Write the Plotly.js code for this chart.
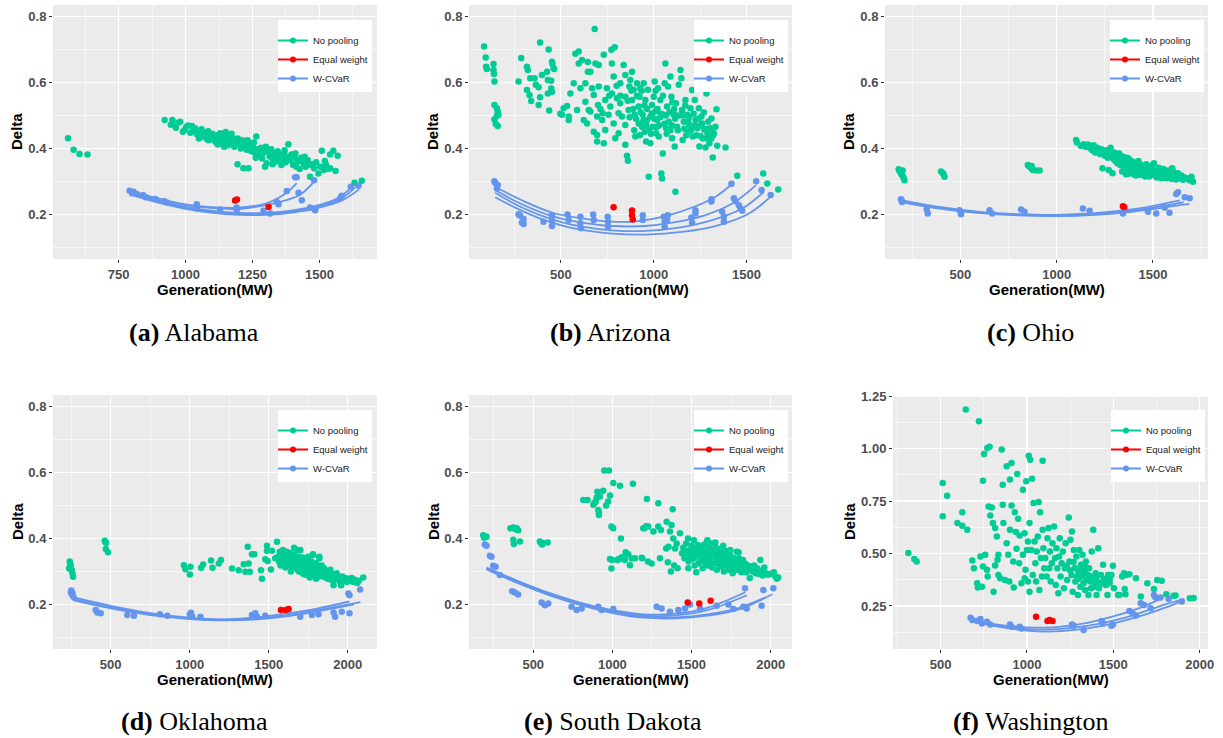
<!DOCTYPE html>
<html><head><meta charset="utf-8">
<script src="https://cdn.plot.ly/plotly-3.0.1.min.js"></script>
<style>html,body{margin:0;padding:0;background:#fff}#chart{width:1223px;height:738px}</style>
</head><body><div id="chart"></div>
<script>
// ---------------- DATA ----------------
const seriesNames = ['No pooling', 'Equal weight', 'W-CVaR'];
const xTitle = 'Generation(MW)';
const yTitle = 'Delta';

// (a) Alabama
const alNoPool = [[561,0.431],[582,0.396],[604,0.383],[634,0.382],[922,0.486],[945,0.472],[951,0.486],[955,0.474],[964,0.463],[972,0.478],[980,0.481],[990,0.451],[996,0.456],[1003,0.466],[1010,0.470],[1018,0.448],[1024,0.468],[1030,0.453],[1036,0.461],[1042,0.444],[1048,0.452],[1055,0.440],[1060,0.458],[1066,0.436],[1072,0.447],[1078,0.430],[1084,0.452],[1090,0.441],[1095,0.428],[1100,0.445],[1106,0.432],[1112,0.420],[1118,0.440],[1124,0.427],[1130,0.446],[1135,0.415],[1140,0.433],[1146,0.421],[1152,0.438],[1158,0.410],[1164,0.428],[1170,0.417],[1176,0.432],[1182,0.405],[1188,0.422],[1194,0.352],[1200,0.415],[1206,0.400],[1212,0.425],[1216,0.340],[1222,0.408],[1228,0.396],[1235,0.340],[1240,0.412],[1246,0.392],[1252,0.405],[1258,0.388],[1264,0.436],[1270,0.398],[1276,0.380],[1282,0.402],[1288,0.385],[1294,0.395],[1297,0.345],[1303,0.355],[1308,0.390],[1314,0.376],[1320,0.398],[1326,0.368],[1332,0.385],[1338,0.372],[1344,0.392],[1350,0.362],[1356,0.380],[1362,0.368],[1368,0.386],[1374,0.358],[1380,0.375],[1384,0.413],[1390,0.365],[1396,0.382],[1402,0.350],[1408,0.370],[1414,0.345],[1420,0.362],[1426,0.338],[1432,0.372],[1440,0.355],[1448,0.345],[1456,0.365],[1465,0.314],[1472,0.352],[1480,0.340],[1488,0.358],[1496,0.324],[1503,0.345],[1509,0.393],[1516,0.335],[1524,0.352],[1532,0.338],[1540,0.382],[1552,0.393],[1568,0.378],[1631,0.296],[1658,0.302],[1172,0.445],[1144,0.405],[1120,0.412],[1232,0.425],[1262,0.372],[1286,0.370],[1325,0.352],[1358,0.350],[1400,0.372],[1445,0.375],[1050,0.430],[1085,0.425],[1150,0.450],[1195,0.430],[1255,0.418],[1300,0.405],[1335,0.360],[1370,0.395],[1410,0.385],[1460,0.350],[1520,0.362],[1540,0.340],[1560,0.332]];
const alEqual = [[1185,0.242],[1192,0.245],[1310,0.223]];
const alCvar = [[791,0.272],[800,0.264],[806,0.269],[818,0.262],[841,0.259],[852,0.252],[887,0.247],[920,0.240],[930,0.236],[1042,0.231],[1042,0.218],[1129,0.215],[1191,0.221],[1191,0.213],[1291,0.211],[1316,0.203],[1341,0.238],[1347,0.231],[1378,0.271],[1409,0.313],[1415,0.313],[1422,0.266],[1434,0.243],[1465,0.221],[1480,0.304],[1484,0.213],[1577,0.249],[1583,0.257],[1617,0.284],[1646,0.287]];
const alCurves = [
  [[790,0.272],[870,0.254],[995,0.231],[1100,0.222],[1200,0.221],[1300,0.233],[1376,0.265],[1415,0.295]],
  [[790,0.270],[870,0.252],[995,0.229],[1100,0.219],[1200,0.217],[1254,0.222],[1341,0.236],[1428,0.260],[1484,0.304]],
  [[790,0.268],[870,0.248],[995,0.224],[1100,0.211],[1200,0.205],[1300,0.205],[1400,0.212],[1500,0.229],[1570,0.250],[1620,0.282]],
  [[790,0.265],[870,0.245],[995,0.221],[1100,0.208],[1200,0.202],[1300,0.202],[1400,0.209],[1500,0.225],[1580,0.248],[1635,0.283]],
  [[790,0.262],[870,0.242],[995,0.218],[1100,0.205],[1200,0.199],[1300,0.199],[1400,0.206],[1500,0.221],[1590,0.245],[1648,0.276]]
];

// (b) Arizona
const azNoPool = [[86,0.709],[95,0.676],[97,0.648],[101,0.641],[137,0.656],[137,0.638],[139,0.626],[142,0.603],[142,0.532],[155,0.522],[160,0.512],[155,0.499],[142,0.488],[149,0.474],[160,0.468],[164,0.502],[272,0.603],[286,0.674],[317,0.648],[322,0.638],[317,0.577],[331,0.562],[340,0.544],[335,0.613],[358,0.613],[365,0.593],[380,0.586],[388,0.555],[380,0.532],[388,0.721],[398,0.623],[425,0.633],[430,0.608],[430,0.567],[434,0.700],[437,0.515],[448,0.605],[448,0.582],[452,0.663],[455,0.656],[460,0.643],[452,0.572],[464,0.641],[497,0.505],[515,0.522],[506,0.502],[533,0.529],[542,0.497],[542,0.486],[551,0.567],[569,0.598],[578,0.687],[587,0.517],[605,0.583],[596,0.694],[596,0.658],[614,0.668],[623,0.486],[632,0.598],[632,0.542],[641,0.476],[650,0.517],[659,0.512],[645,0.633],[645,0.662],[659,0.633],[668,0.583],[677,0.562],[677,0.451],[682,0.762],[686,0.658],[695,0.497],[700,0.532],[704,0.653],[695,0.421],[695,0.441],[704,0.588],[713,0.520],[722,0.486],[725,0.507],[731,0.684],[731,0.416],[739,0.547],[739,0.456],[748,0.583],[757,0.502],[766,0.527],[772,0.699],[775,0.658],[775,0.567],[784,0.618],[784,0.476],[790,0.707],[793,0.431],[802,0.552],[811,0.507],[811,0.446],[820,0.598],[820,0.537],[829,0.497],[838,0.653],[847,0.623],[847,0.557],[847,0.471],[847,0.411],[856,0.378],[861,0.363],[865,0.517],[869,0.588],[874,0.608],[883,0.633],[883,0.547],[892,0.578],[897,0.502],[901,0.436],[910,0.598],[919,0.527],[919,0.476],[924,0.557],[928,0.583],[937,0.466],[941,0.502],[946,0.598],[951,0.451],[955,0.547],[959,0.421],[964,0.486],[969,0.578],[973,0.314],[982,0.497],[982,0.416],[991,0.532],[995,0.466],[1000,0.557],[1005,0.603],[1009,0.512],[1013,0.446],[1018,0.486],[1023,0.583],[1027,0.436],[1036,0.547],[1041,0.324],[1045,0.309],[1049,0.385],[1054,0.502],[1059,0.598],[1063,0.658],[1067,0.461],[1072,0.527],[1077,0.588],[1081,0.481],[1090,0.618],[1095,0.557],[1099,0.431],[1108,0.502],[1113,0.406],[1117,0.269],[1120,0.537],[1126,0.466],[1135,0.593],[1144,0.638],[1149,0.613],[1153,0.517],[1156,0.426],[1162,0.481],[1171,0.547],[1180,0.502],[1185,0.451],[1192,0.471],[1198,0.522],[1207,0.577],[1210,0.436],[1221,0.547],[1225,0.486],[1234,0.461],[1243,0.522],[1246,0.406],[1252,0.438],[1257,0.497],[1261,0.476],[1270,0.509],[1275,0.456],[1279,0.403],[1284,0.567],[1288,0.431],[1293,0.481],[1300,0.416],[1306,0.461],[1311,0.491],[1318,0.373],[1324,0.446],[1333,0.466],[1338,0.519],[1342,0.408],[1387,0.403],[860,0.545],[890,0.520],[905,0.490],[930,0.510],[950,0.530],[960,0.470],[975,0.455],[990,0.505],[1003,0.490],[1020,0.520],[1030,0.470],[1040,0.505],[1058,0.475],[1070,0.445],[1085,0.510],[1100,0.470],[1115,0.490],[1130,0.455],[1140,0.500],[1165,0.460],[1175,0.440],[1190,0.495],[1200,0.455],[1215,0.505],[1230,0.440],[1250,0.470],[1265,0.430],[1290,0.445],[1310,0.430],[880,0.575],[910,0.560],[935,0.575],[1010,0.575],[1050,0.560],[1100,0.540],[1170,0.530],[820,0.560],[800,0.590],[760,0.560],[1450,0.317],[1590,0.324],[1612,0.294],[1671,0.276],[870,0.495],[895,0.455],[925,0.440],[945,0.485],[965,0.520],[985,0.445],[1015,0.465],[1035,0.495],[1065,0.500],[1090,0.455],[1110,0.520],[1125,0.500],[1160,0.500],[1185,0.480],[1220,0.470],[1240,0.490],[1270,0.460],[1295,0.460],[1320,0.440]];
const azEqual = [[784,0.222],[883,0.212],[883,0.198],[887,0.185]];
const azCvar = [[142,0.301],[146,0.296],[155,0.279],[160,0.289],[272,0.201],[281,0.196],[290,0.176],[299,0.186],[299,0.171],[406,0.178],[452,0.198],[452,0.181],[452,0.165],[536,0.200],[542,0.183],[605,0.193],[605,0.173],[608,0.158],[674,0.200],[677,0.183],[752,0.193],[754,0.178],[754,0.163],[941,0.198],[941,0.183],[1054,0.193],[1059,0.178],[1059,0.163],[1076,0.198],[1072,0.183],[1203,0.191],[1207,0.175],[1225,0.213],[1225,0.203],[1311,0.246],[1311,0.239],[1369,0.208],[1378,0.193],[1378,0.178],[1419,0.293],[1432,0.249],[1441,0.240],[1459,0.228],[1468,0.218],[1477,0.211],[1552,0.301],[1581,0.274],[1630,0.259]];
const azCurves = [
  [[146,0.284],[290,0.243],[452,0.206],[614,0.188],[775,0.178],[919,0.180],[1063,0.195],[1225,0.225],[1333,0.254],[1419,0.291]],
  [[146,0.274],[290,0.231],[452,0.195],[614,0.175],[775,0.165],[955,0.165],[1099,0.175],[1279,0.198],[1423,0.233],[1552,0.289]],
  [[146,0.266],[290,0.221],[452,0.185],[614,0.163],[775,0.152],[955,0.150],[1135,0.160],[1315,0.183],[1477,0.218],[1594,0.269]],
  [[146,0.252],[290,0.211],[452,0.175],[614,0.153],[775,0.142],[955,0.139],[1153,0.147],[1351,0.168],[1513,0.203],[1630,0.254]]
];

// (c) Ohio
const ohNoPool = [[179,0.337],[183,0.333],[186,0.330],[191,0.324],[194,0.327],[197,0.319],[200,0.333],[204,0.312],[209,0.304],[399,0.330],[408,0.326],[417,0.314],[412,0.322],[850,0.350],[859,0.345],[868,0.340],[876,0.335],[893,0.333],[911,0.333],[870,0.347],[1101,0.426],[1105,0.418],[1125,0.408],[1140,0.413],[1150,0.405],[1162,0.412],[1175,0.400],[1185,0.395],[1192,0.410],[1200,0.388],[1210,0.402],[1218,0.392],[1225,0.383],[1232,0.398],[1238,0.340],[1245,0.388],[1250,0.378],[1258,0.395],[1265,0.372],[1270,0.335],[1275,0.385],[1280,0.402],[1285,0.375],[1290,0.325],[1295,0.368],[1300,0.388],[1305,0.362],[1310,0.378],[1316,0.355],[1320,0.372],[1325,0.385],[1330,0.350],[1335,0.365],[1340,0.330],[1345,0.375],[1350,0.345],[1355,0.360],[1360,0.322],[1365,0.372],[1370,0.338],[1375,0.355],[1380,0.365],[1385,0.330],[1390,0.348],[1395,0.360],[1400,0.322],[1405,0.340],[1410,0.355],[1415,0.328],[1420,0.345],[1425,0.362],[1430,0.320],[1435,0.338],[1440,0.350],[1445,0.330],[1450,0.345],[1455,0.318],[1460,0.335],[1465,0.352],[1470,0.325],[1475,0.340],[1480,0.315],[1485,0.332],[1490,0.348],[1495,0.322],[1500,0.338],[1505,0.355],[1510,0.318],[1515,0.332],[1520,0.312],[1525,0.328],[1530,0.342],[1535,0.320],[1540,0.335],[1545,0.310],[1550,0.325],[1555,0.338],[1560,0.316],[1565,0.330],[1570,0.310],[1575,0.322],[1580,0.333],[1585,0.312],[1590,0.325],[1595,0.308],[1600,0.318],[1605,0.330],[1610,0.310],[1615,0.322],[1620,0.306],[1625,0.315],[1630,0.325],[1640,0.310],[1648,0.318],[1655,0.305],[1665,0.312],[1680,0.308],[1690,0.304],[1700,0.314],[1708,0.299],[1345,0.358],[1372,0.370],[1395,0.345],[1425,0.332],[1455,0.342],[1488,0.328],[1525,0.315],[1560,0.328],[1600,0.340],[1460,0.315],[1410,0.318],[1370,0.323]];
const ohEqual = [[1344,0.225],[1350,0.223]];
const ohCvar = [[191,0.246],[194,0.242],[197,0.238],[325,0.215],[330,0.203],[495,0.213],[503,0.201],[651,0.213],[665,0.203],[815,0.215],[833,0.208],[1136,0.218],[1171,0.211],[1344,0.203],[1353,0.218],[1474,0.208],[1517,0.203],[1561,0.221],[1586,0.205],[1621,0.262],[1630,0.267],[1665,0.252],[1691,0.249]];
const ohCurves = [
  [[197,0.243],[400,0.222],[600,0.208],[800,0.201],[1000,0.199],[1200,0.204],[1400,0.216],[1640,0.243]],
  [[197,0.240],[400,0.219],[600,0.206],[800,0.199],[1000,0.197],[1200,0.202],[1400,0.212],[1660,0.237]],
  [[197,0.237],[400,0.217],[600,0.204],[800,0.197],[1000,0.195],[1200,0.199],[1400,0.209],[1690,0.232]]
];

// (d) Oklahoma
const okNoPool = [[237,0.309],[241,0.330],[244,0.322],[248,0.317],[254,0.304],[258,0.294],[262,0.284],[462,0.393],[466,0.389],[471,0.387],[469,0.368],[483,0.358],[963,0.319],[973,0.307],[1001,0.291],[1005,0.314],[1072,0.311],[1085,0.321],[1135,0.333],[1144,0.311],[1184,0.324],[1198,0.335],[1268,0.309],[1310,0.304],[1342,0.322],[1352,0.299],[1367,0.375],[1373,0.324],[1380,0.299],[1394,0.352],[1409,0.352],[1451,0.304],[1457,0.278],[1478,0.337],[1489,0.378],[1489,0.363],[1493,0.332],[1514,0.306],[1520,0.363],[1552,0.390],[1541,0.340],[1560,0.345],[1565,0.330],[1570,0.360],[1575,0.318],[1580,0.350],[1585,0.338],[1590,0.365],[1595,0.325],[1600,0.352],[1605,0.312],[1610,0.342],[1615,0.360],[1620,0.330],[1625,0.348],[1630,0.318],[1635,0.338],[1640,0.355],[1645,0.322],[1650,0.342],[1655,0.310],[1660,0.332],[1665,0.350],[1670,0.318],[1675,0.338],[1680,0.365],[1685,0.305],[1690,0.328],[1695,0.345],[1700,0.315],[1705,0.335],[1710,0.298],[1715,0.322],[1720,0.342],[1725,0.310],[1730,0.330],[1735,0.290],[1740,0.318],[1745,0.335],[1750,0.305],[1755,0.325],[1760,0.295],[1765,0.312],[1770,0.330],[1775,0.300],[1780,0.350],[1785,0.318],[1790,0.288],[1795,0.308],[1800,0.325],[1805,0.295],[1810,0.315],[1815,0.285],[1820,0.345],[1825,0.305],[1830,0.292],[1835,0.318],[1840,0.300],[1845,0.285],[1850,0.310],[1855,0.295],[1860,0.282],[1865,0.302],[1870,0.290],[1875,0.278],[1880,0.298],[1885,0.285],[1890,0.305],[1895,0.275],[1900,0.292],[1905,0.280],[1910,0.258],[1915,0.288],[1920,0.276],[1930,0.295],[1940,0.282],[1950,0.270],[1958,0.258],[1965,0.285],[1975,0.275],[1985,0.280],[1995,0.268],[2005,0.278],[2015,0.272],[2025,0.280],[2035,0.268],[2045,0.275],[2060,0.265],[2070,0.272],[2098,0.282],[1660,0.372],[1700,0.365],[1750,0.345],[1780,0.352],[1820,0.340],[1605,0.358],[1640,0.300],[1690,0.300],[1720,0.292],[1760,0.282],[1800,0.278]];
const okEqual = [[1577,0.183],[1609,0.183],[1626,0.186]];
const okCvar = [[248,0.238],[251,0.242],[254,0.230],[258,0.234],[265,0.223],[405,0.183],[416,0.176],[437,0.173],[605,0.168],[647,0.166],[811,0.170],[858,0.166],[1001,0.170],[1008,0.175],[1016,0.163],[1068,0.163],[1394,0.168],[1415,0.173],[1426,0.163],[1478,0.166],[1699,0.163],[1773,0.168],[1815,0.170],[1910,0.176],[1920,0.163],[1962,0.178],[2004,0.233],[2011,0.228],[2011,0.173],[2078,0.245]];
const okCurves = [
  [[260,0.222],[500,0.196],[750,0.174],[1000,0.160],[1200,0.155],[1400,0.160],[1600,0.172],[1800,0.187],[2010,0.209]],
  [[260,0.218],[500,0.192],[750,0.171],[1000,0.158],[1200,0.153],[1400,0.157],[1600,0.167],[1800,0.182],[2080,0.207]],
  [[260,0.213],[500,0.188],[750,0.168],[1000,0.156],[1200,0.152],[1400,0.154],[1600,0.163],[1800,0.178],[2040,0.200]]
];

// (e) South Dakota
const sdNoPool = [[184,0.410],[190,0.402],[195,0.406],[205,0.405],[356,0.431],[374,0.433],[395,0.431],[374,0.396],[377,0.383],[416,0.391],[405,0.425],[388,0.428],[542,0.391],[549,0.386],[556,0.382],[561,0.386],[591,0.388],[816,0.517],[843,0.517],[880,0.502],[886,0.507],[895,0.512],[901,0.524],[905,0.542],[911,0.486],[915,0.471],[915,0.478],[921,0.527],[942,0.545],[949,0.606],[960,0.500],[978,0.606],[973,0.512],[985,0.530],[994,0.436],[1005,0.431],[1006,0.568],[1048,0.560],[1054,0.400],[985,0.338],[994,0.309],[998,0.335],[1033,0.335],[1037,0.337],[1054,0.340],[1059,0.343],[1067,0.339],[1079,0.335],[1084,0.358],[1100,0.352],[1111,0.319],[1122,0.339],[1130,0.566],[1143,0.340],[1189,0.340],[1195,0.431],[1202,0.431],[1213,0.437],[1218,0.520],[1227,0.436],[1248,0.324],[1259,0.421],[1290,0.507],[1290,0.436],[1301,0.340],[1307,0.426],[1225,0.330],[1185,0.342],[1343,0.451],[1364,0.421],[1374,0.441],[1381,0.489],[1385,0.400],[1396,0.370],[1406,0.385],[1427,0.416],[1340,0.370],[1355,0.375],[1370,0.300],[1390,0.318],[1412,0.310],[1350,0.328],[1440,0.355],[1448,0.372],[1455,0.340],[1460,0.360],[1466,0.385],[1472,0.345],[1478,0.400],[1482,0.330],[1488,0.365],[1494,0.350],[1500,0.378],[1505,0.338],[1510,0.360],[1515,0.395],[1520,0.342],[1525,0.368],[1530,0.298],[1535,0.355],[1540,0.380],[1545,0.325],[1550,0.350],[1555,0.372],[1560,0.335],[1565,0.360],[1570,0.310],[1575,0.345],[1580,0.382],[1585,0.328],[1590,0.352],[1595,0.368],[1600,0.318],[1605,0.342],[1610,0.375],[1615,0.330],[1620,0.355],[1625,0.385],[1630,0.312],[1635,0.345],[1640,0.365],[1645,0.325],[1650,0.348],[1655,0.372],[1660,0.305],[1665,0.338],[1670,0.358],[1675,0.322],[1680,0.345],[1685,0.368],[1690,0.315],[1695,0.335],[1700,0.352],[1705,0.300],[1710,0.328],[1715,0.345],[1720,0.362],[1725,0.318],[1730,0.338],[1735,0.305],[1740,0.325],[1745,0.348],[1750,0.312],[1755,0.335],[1760,0.295],[1765,0.322],[1770,0.340],[1775,0.310],[1780,0.328],[1785,0.360],[1790,0.305],[1795,0.322],[1800,0.340],[1805,0.312],[1810,0.330],[1815,0.298],[1820,0.318],[1825,0.335],[1830,0.305],[1835,0.325],[1840,0.312],[1845,0.298],[1850,0.320],[1860,0.308],[1868,0.280],[1875,0.315],[1885,0.300],[1895,0.318],[1905,0.295],[1915,0.310],[1925,0.292],[1935,0.335],[1940,0.302],[1950,0.288],[1960,0.312],[1970,0.295],[1985,0.290],[2000,0.292],[2020,0.298],[2030,0.285],[2040,0.278],[2048,0.282],[1600,0.395],[1650,0.388],[1700,0.378],[1745,0.365],[1798,0.358],[1520,0.318],[1480,0.310]];
const sdEqual = [[1476,0.206],[1549,0.203],[1621,0.211]];
const sdCvar = [[194,0.382],[205,0.378],[226,0.348],[236,0.345],[247,0.317],[262,0.314],[289,0.289],[367,0.240],[384,0.236],[405,0.230],[553,0.206],[574,0.198],[595,0.203],[742,0.193],[774,0.183],[806,0.188],[911,0.193],[932,0.183],[1006,0.186],[1280,0.193],[1311,0.188],[1364,0.178],[1417,0.183],[1459,0.188],[1490,0.200],[1554,0.188],[1659,0.196],[1733,0.200],[1764,0.186],[1828,0.193],[1838,0.249],[1849,0.188],[1954,0.244],[1943,0.196],[2017,0.249]];
const sdCurves = [
  [[205,0.312],[400,0.272],[600,0.235],[800,0.205],[1000,0.183],[1200,0.170],[1400,0.172],[1600,0.190],[1840,0.237]],
  [[205,0.310],[400,0.270],[600,0.233],[800,0.203],[1000,0.180],[1200,0.166],[1400,0.167],[1600,0.183],[1850,0.228]],
  [[205,0.308],[400,0.267],[600,0.230],[800,0.200],[1000,0.177],[1200,0.163],[1400,0.161],[1600,0.170],[1800,0.190],[1970,0.222]],
  [[205,0.306],[400,0.265],[600,0.228],[800,0.198],[1000,0.174],[1200,0.160],[1400,0.158],[1600,0.166],[1800,0.185],[2010,0.231]]
];

// (f) Washington
const waNoPool = [[314,0.502],[348,0.474],[362,0.462],[513,0.836],[538,0.775],[513,0.677],[598,0.645],[626,0.697],[626,0.632],[655,0.613],[646,1.186],[722,1.130],[746,0.847],[752,0.974],[771,1.003],[784,1.008],[684,0.467],[693,0.430],[712,0.358],[716,0.338],[731,0.486],[740,0.342],[746,0.438],[759,0.494],[769,0.422],[773,0.390],[778,0.724],[788,0.681],[797,0.719],[803,0.645],[807,0.318],[816,0.443],[816,0.621],[826,0.581],[830,0.470],[835,0.494],[835,0.398],[845,0.382],[854,0.995],[860,0.828],[860,0.732],[864,0.645],[873,0.374],[883,0.915],[883,0.549],[892,0.494],[898,0.366],[902,0.613],[902,0.852],[911,0.729],[911,0.931],[921,0.462],[924,0.338],[930,0.697],[936,0.602],[940,0.522],[944,0.879],[949,0.665],[955,0.454],[958,0.586],[968,0.358],[977,0.494],[977,0.804],[987,0.382],[987,0.597],[992,0.422],[996,0.844],[1000,0.517],[1006,0.557],[1006,0.366],[1011,0.966],[1015,0.318],[1015,0.645],[1019,0.947],[1025,0.517],[1030,0.856],[1034,0.398],[1038,0.740],[1044,0.557],[1049,0.454],[1053,0.366],[1057,0.510],[1063,0.581],[1068,0.745],[1072,0.326],[1076,0.697],[1081,0.478],[1087,0.390],[1091,0.942],[1091,0.613],[1095,0.525],[1100,0.430],[1106,0.478],[1114,0.390],[1119,0.573],[1125,0.621],[1129,0.430],[1133,0.510],[1138,0.366],[1144,0.454],[1148,0.549],[1157,0.629],[1163,0.478],[1167,0.350],[1171,0.525],[1176,0.430],[1182,0.310],[1186,0.486],[1190,0.573],[1195,0.390],[1201,0.454],[1208,0.510],[1214,0.334],[1220,0.430],[1224,0.549],[1233,0.374],[1242,0.671],[1246,0.462],[1252,0.565],[1258,0.398],[1261,0.605],[1265,0.318],[1271,0.517],[1277,0.430],[1280,0.366],[1286,0.486],[1290,0.390],[1295,0.302],[1299,0.414],[1303,0.517],[1309,0.342],[1314,0.446],[1318,0.390],[1322,0.494],[1328,0.358],[1333,0.414],[1337,0.326],[1341,0.462],[1347,0.374],[1352,0.398],[1356,0.302],[1360,0.430],[1366,0.366],[1371,0.334],[1375,0.509],[1379,0.390],[1384,0.613],[1390,0.342],[1398,0.406],[1403,0.302],[1409,0.366],[1413,0.525],[1417,0.334],[1428,0.398],[1436,0.358],[1441,0.446],[1447,0.379],[1457,0.350],[1466,0.302],[1470,0.398],[1479,0.358],[1489,0.398],[1498,0.442],[1504,0.334],[1527,0.302],[1536,0.302],[1551,0.390],[1562,0.406],[1574,0.398],[1593,0.401],[1566,0.331],[1570,0.306],[1631,0.382],[1659,0.295],[1697,0.358],[1735,0.331],[1754,0.374],[1807,0.306],[1849,0.299],[1943,0.287],[1965,0.288],[1860,0.300],[1780,0.370],[1300,0.380],[1320,0.420],[1340,0.400],[1360,0.390],[1380,0.370],[1400,0.380],[1420,0.360],[1450,0.370],[1480,0.380],[1310,0.440],[1335,0.440],[1270,0.460],[1250,0.420],[1230,0.440]];
const waEqual = [[1053,0.199],[1119,0.178],[1132,0.183],[1148,0.178]];
const waCvar = [[674,0.194],[684,0.183],[712,0.178],[731,0.188],[740,0.167],[769,0.175],[788,0.162],[902,0.162],[911,0.151],[958,0.151],[968,0.143],[1261,0.162],[1271,0.156],[1328,0.135],[1432,0.178],[1441,0.167],[1489,0.156],[1498,0.162],[1593,0.226],[1612,0.215],[1631,0.204],[1659,0.263],[1678,0.255],[1716,0.239],[1735,0.302],[1744,0.290],[1773,0.290],[1820,0.283],[1896,0.271]];
const waCurves = [
  [[674,0.185],[800,0.165],[1000,0.148],[1100,0.147],[1200,0.152],[1350,0.170],[1500,0.200],[1650,0.240],[1790,0.290]],
  [[674,0.182],[800,0.160],[1000,0.140],[1100,0.137],[1200,0.141],[1350,0.155],[1500,0.180],[1650,0.215],[1800,0.258],[1910,0.283]],
  [[674,0.180],[800,0.156],[1000,0.133],[1100,0.128],[1200,0.130],[1350,0.143],[1500,0.167],[1650,0.200],[1800,0.242],[1910,0.278]]
];

// ---------------- LAYOUT / STYLE ----------------
const W = 1223, H = 738;
const GREEN = '#00CC96', RED = '#FF0000', BLUE = '#6495ED';
const px = v => v / W, py = v => 1 - v / H;

const panels = [
  {noPool: alNoPool, equal: alEqual, cvar: alCvar, curves: alCurves, label: 'a', state: 'Alabama',
   xr: [505, 1715], xd: 250, yr: [0.065, 0.835], yd: 0.2, yf: '.1f', box: [53, 377, 5, 259], legBox: [283, 20], yTitleOff: 36, cap: [194, 332]},
  {noPool: azNoPool, equal: azEqual, cvar: azCvar, curves: azCurves, label: 'b', state: 'Arizona',
   xr: [5, 1745], xd: 500, yr: [0.065, 0.835], yd: 0.2, yf: '.1f', box: [469, 792, 5, 259], legBox: [699, 20], yTitleOff: 36, cap: [610, 332]},
  {noPool: ohNoPool, equal: ohEqual, cvar: ohCvar, curves: ohCurves, label: 'c', state: 'Ohio',
   xr: [108, 1786], xd: 500, yr: [0.065, 0.835], yd: 0.2, yf: '.1f', box: [885, 1208, 5, 259], legBox: [1115, 20], yTitleOff: 36, cap: [1030, 332]},
  {noPool: okNoPool, equal: okEqual, cvar: okCvar, curves: okCurves, label: 'd', state: 'Oklahoma',
   xr: [135, 2185], xd: 500, yr: [0.065, 0.835], yd: 0.2, yf: '.1f', box: [53, 377, 395, 649], legBox: [283, 410], yTitleOff: 36, cap: [194, 721]},
  {noPool: sdNoPool, equal: sdEqual, cvar: sdCvar, curves: sdCurves, label: 'e', state: 'South Dakota',
   xr: [94, 2135], xd: 500, yr: [0.065, 0.835], yd: 0.2, yf: '.1f', box: [469, 792, 395, 649], legBox: [699, 410], yTitleOff: 36, cap: [613, 721]},
  {noPool: waNoPool, equal: waEqual, cvar: waCvar, curves: waCurves, label: 'f', state: 'Washington',
   xr: [225, 2048], xd: 500, yr: [0.045, 1.255], yd: 0.25, yf: '.2f', box: [893, 1208, 395, 649], legBox: [1116, 410], yTitleOff: 44, cap: [1031, 721]}
];

const tickFont = {family: 'Liberation Sans, Arial, sans-serif', size: 13, color: '#4D4D4D', weight: 'bold'};
const titleFont = {family: 'Liberation Sans, Arial, sans-serif', size: 15, color: '#000000', weight: 'bold'};

const traces = [];
const layout = {
  width: W, height: H, margin: {l: 0, r: 0, t: 0, b: 0},
  paper_bgcolor: '#FFFFFF', plot_bgcolor: '#EBEBEB', showlegend: true,
  annotations: [], shapes: [], hovermode: false
};

const xs = arr => arr.map(p => p[0]);
const ys = arr => arr.map(p => p[1]);

panels.forEach((p, i) => {
  const n = i + 1;
  const sfx = n === 1 ? '' : String(n);
  const xa = 'x' + sfx, ya = 'y' + sfx;
  const legId = 'legend' + sfx;

  traces.push({type: 'scatter', mode: 'markers', x: xs(p.noPool), y: ys(p.noPool), xaxis: xa, yaxis: ya,
    marker: {color: GREEN, size: 6.5}, showlegend: false, hoverinfo: 'skip'});
  p.curves.forEach(c => traces.push({type: 'scatter', mode: 'lines', x: xs(c), y: ys(c), xaxis: xa, yaxis: ya,
    line: {color: BLUE, width: 1.8, shape: 'spline', smoothing: 1}, showlegend: false, hoverinfo: 'skip'}));
  traces.push({type: 'scatter', mode: 'markers', x: xs(p.cvar), y: ys(p.cvar), xaxis: xa, yaxis: ya,
    marker: {color: BLUE, size: 6.5}, showlegend: false, hoverinfo: 'skip'});
  traces.push({type: 'scatter', mode: 'markers', x: xs(p.equal), y: ys(p.equal), xaxis: xa, yaxis: ya,
    marker: {color: RED, size: 6.5}, showlegend: false, hoverinfo: 'skip'});
  // legend entries (line + point keys as in the original)
  [GREEN, RED, BLUE].forEach((col, k) => traces.push({type: 'scatter', mode: 'lines+markers', x: [null], y: [null],
    xaxis: xa, yaxis: ya, name: seriesNames[k], legend: legId, showlegend: true,
    line: {color: col, width: 2}, marker: {color: col, size: 6}}));

  const [x0, x1, y0, y1] = p.box;
  layout['xaxis' + sfx] = {
    domain: [px(x0), px(x1)], anchor: ya, range: p.xr, tickmode: 'linear', tick0: 0, dtick: p.xd,
    showgrid: true, gridcolor: '#FFFFFF', gridwidth: 1.2, zeroline: false, showline: false,
    ticks: 'outside', ticklen: 3, tickwidth: 1, tickcolor: '#333333', tickfont: tickFont,
    minor: {tick0: p.xd / 2, dtick: p.xd, showgrid: true, gridcolor: '#FFFFFF', gridwidth: 0.6, ticks: ''},
    fixedrange: true
  };
  layout['yaxis' + sfx] = {
    domain: [py(y1), py(y0)], anchor: xa, range: p.yr, tickmode: 'linear', tick0: 0, dtick: p.yd, tickformat: p.yf,
    showgrid: true, gridcolor: '#FFFFFF', gridwidth: 1.2, zeroline: false, showline: false,
    ticks: 'outside', ticklen: 3, tickwidth: 1, tickcolor: '#333333', tickfont: tickFont,
    minor: {tick0: p.yd / 2, dtick: p.yd, showgrid: true, gridcolor: '#FFFFFF', gridwidth: 0.6, ticks: ''},
    fixedrange: true
  };
  // axis titles
  layout.annotations.push({xref: 'paper', yref: 'paper', x: px((x0 + x1) / 2), y: py(y1 + 30),
    xanchor: 'center', yanchor: 'middle', showarrow: false, text: xTitle, font: titleFont});
  layout.annotations.push({xref: 'paper', yref: 'paper', x: px(x0 - p.yTitleOff), y: py((y0 + y1) / 2),
    xanchor: 'center', yanchor: 'middle', showarrow: false, text: yTitle, textangle: -90, font: titleFont});
  // legend: white box behind, entries from plotly legend
  const [lx, ly] = p.legBox;
  layout.shapes.push({type: 'rect', xref: 'paper', yref: 'paper', x0: px(lx - 5), x1: px(lx + 89),
    y0: py(ly + 72), y1: py(ly), fillcolor: '#FFFFFF', line: {width: 0}, layer: 'above'});
  layout[legId] = {
    x: px(lx - 10), y: py(ly + 6), xanchor: 'left', yanchor: 'top', xref: 'paper', yref: 'paper',
    bgcolor: 'rgba(0,0,0,0)', borderwidth: 0, itemwidth: 30, tracegroupgap: 0,
    font: {family: 'Liberation Sans, Arial, sans-serif', size: 9.5, color: '#1A1A1A'}
  };
  layout.annotations.push({
    xref: 'paper', yref: 'paper', x: px(p.cap[0]), y: py(p.cap[1]), xanchor: 'center', yanchor: 'middle',
    showarrow: false, text: '<b>(' + p.label + ')</b> ' + p.state,
    font: {family: 'Liberation Serif, Times New Roman, serif', size: 26, color: '#000000'}
  });
});

Plotly.newPlot('chart', traces, layout, {displayModeBar: false, staticPlot: true});
</script>
</body></html>
